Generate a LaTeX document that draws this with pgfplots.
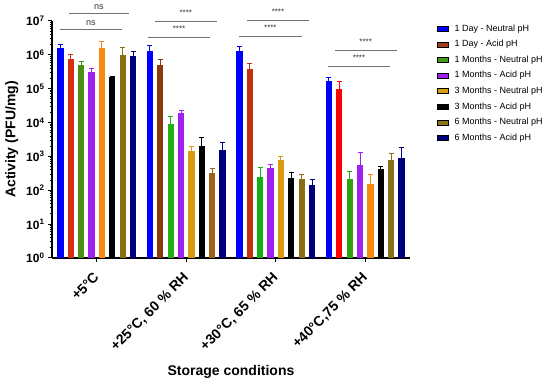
\documentclass[border=0pt]{standalone}
\usepackage{pgfplots}
\pgfplotsset{compat=1.18}
\usepackage{fontspec}
\setmainfont{Liberation Sans}
\definecolor{cA}{HTML}{0000FF}
\definecolor{cB}{HTML}{A0401A}
\definecolor{cBa}{HTML}{D82E10}
\definecolor{cBb}{HTML}{8B3A0A}
\definecolor{cBc}{HTML}{C0300F}
\definecolor{cBd}{HTML}{FF0000}
\definecolor{cC}{HTML}{3F9A1A}
\definecolor{cCa}{HTML}{4A9012}
\definecolor{cCb}{HTML}{22B014}
\definecolor{cCc}{HTML}{12B012}
\definecolor{cCd}{HTML}{30A012}
\definecolor{cD}{HTML}{A020F0}
\definecolor{cE}{HTML}{D4A017}
\definecolor{cEa}{HTML}{F58A0F}
\definecolor{cEb}{HTML}{D99A10}
\definecolor{cF}{HTML}{000000}
\definecolor{cG}{HTML}{8B7514}
\definecolor{cGa}{HTML}{8B6E14}
\definecolor{cGb}{HTML}{A0601A}
\definecolor{cGd}{HTML}{857214}
\definecolor{cH}{HTML}{00007F}
\definecolor{sig}{HTML}{707070}
% one bar: colour, x, y, upper error
\newcommand{\bp}[4]{\addplot[ybar, bar width=0.07, bar shift=0, fill=#1, draw=none, forget plot,
  error bars/.cd, y dir=plus, y explicit,
  error bar style={#1, line width=1pt},
  error mark options={#1, rotate=90, mark size=2.5pt, line width=1pt}]
  coordinates {(#2,#3) +- (0,#4)};}
\begin{document}
\begin{tikzpicture}
\path[use as bounding box] (0,0) rectangle (550pt,382pt);
\begin{axis}[
  at={(52pt,124pt)}, anchor=south west, scale only axis,
  width=358pt, height=237pt,
  ymode=log, ymin=1, ymax=1e7, xmin=-0.5, xmax=3.5,
  clip=false,
  axis x line=bottom, axis y line=left,
  axis line style={-, line width=1.6pt},
  tick align=outside,
  major tick length=4pt, minor tick length=2pt,
  every tick/.style={black, line width=1pt},
  xtick={0,1,2,3},
  xticklabels={{+5°C},{+25°C, 60 \% RH},{+30°C, 65 \% RH},{+40°C,75 \% RH}},
  xticklabel style={rotate=45, anchor=north east, font=\bfseries\fontsize{14}{14}\selectfont, inner sep=1pt, xshift=-8.5pt, yshift=-2.8pt},
  ytick={1,10,100,1000,10000,100000,1000000,10000000},
  yticklabels={10\textsuperscript{0},10\textsuperscript{1},10\textsuperscript{2},10\textsuperscript{3},10\textsuperscript{4},10\textsuperscript{5},10\textsuperscript{6},10\textsuperscript{7}},
  yticklabel style={font=\bfseries\fontsize{12}{12}\selectfont},
  xlabel={Storage conditions},
  ylabel={Activity (PFU/mg)},
  every axis x label/.style={at={(axis description cs:0.5,-0.48)}, anchor=center, font=\bfseries\fontsize{14}{14}\selectfont},
  every axis y label/.style={at={(axis description cs:-0.112,0.5)}, rotate=90, anchor=center, font=\bfseries\fontsize{14}{14}\selectfont},
  legend image code/.code={\fill[#1] (0pt,-2.5pt) rectangle (11pt,2.5pt);},
  legend cell align=left,
  legend style={draw=none, fill=none, at={(1,1)}, anchor=north west, xshift=27pt, yshift=-2pt,
    inner sep=0pt, row sep=4.6pt, font=\fontsize{9}{10}\selectfont,
    nodes={inner sep=1pt, text height=7pt, text depth=2pt},
    /tikz/every odd column/.append style={column sep=5pt}},
]
% 1 Day - Neutral pH
\bp{cA}{-0.4056}{1.55e6}{5e5}
\bp{cA}{0.5944}{1.26e6}{6.4e5}
\bp{cA}{1.5944}{1.32e6}{5e5}
\bp{cA}{2.5944}{1.74e5}{4e4}
% 1 Day - Acid pH
\bp{cBa}{-0.2898}{7.4e5}{2.6e5}
\bp{cBb}{0.7102}{5.1e5}{2.3e5}
\bp{cBc}{1.7102}{3.8e5}{1.7e5}
\bp{cBd}{2.7102}{9.8e4}{6.4e4}
% 1 Months - Neutral pH
\bp{cCa}{-0.1739}{5.0e5}{1.2e5}
\bp{cCb}{0.8261}{9.1e3}{6.4e3}
\bp{cCc}{1.8261}{245}{212}
\bp{cCd}{2.8261}{209}{154}
% 1 Months - Acid pH
\bp{cD}{-0.058}{3.16e5}{8e4}
\bp{cD}{0.942}{1.86e4}{4.8e3}
\bp{cD}{1.942}{468}{107}
\bp{cD}{2.942}{550}{800}
% 3 Months - Neutral pH
\bp{cEa}{0.058}{1.55e6}{9e5}
\bp{cEb}{1.058}{1.45e3}{500}
\bp{cEb}{2.058}{759}{264}
\bp{cEa}{3.058}{158}{130}
% 3 Months - Acid pH
\bp{cF}{0.1739}{2.19e5}{1.5e4}
\bp{cF}{1.1739}{2.0e3}{1.55e3}
\bp{cF}{2.1739}{229}{102}
\bp{cF}{3.1739}{437}{76}
% 6 Months - Neutral pH
\bp{cGa}{0.2898}{9.8e5}{6.4e5}
\bp{cGb}{1.2898}{331}{106}
\bp{cGa}{2.2898}{219}{83}
\bp{cGd}{3.2898}{794}{465}
% 6 Months - Acid pH
\bp{cH}{0.4056}{9.3e5}{3.3e5}
\bp{cH}{1.4056}{1.51e3}{1.0e3}
\bp{cH}{2.4056}{141}{68}
\bp{cH}{3.4056}{912}{950}
\addlegendimage{fill=cA}\addlegendentry{1 Day - Neutral pH}
\addlegendimage{fill=cB}\addlegendentry{1 Day - Acid pH}
\addlegendimage{fill=cC}\addlegendentry{1 Months - Neutral pH}
\addlegendimage{fill=cD}\addlegendentry{1 Months - Acid pH}
\addlegendimage{fill=cE}\addlegendentry{3 Months - Neutral pH}
\addlegendimage{fill=cF}\addlegendentry{3 Months - Acid pH}
\addlegendimage{fill=cG}\addlegendentry{6 Months - Neutral pH}
\addlegendimage{fill=cH}\addlegendentry{6 Months - Acid pH}
% significance annotations
\draw[sig, line width=0.8pt] (axis cs:-0.31,1.72e7) -- (axis cs:0.36,1.72e7) node[midway, above=3pt, inner sep=0pt, black!80, font=\fontsize{9}{9}\selectfont] {ns};
\draw[sig, line width=0.8pt] (axis cs:-0.41,5.8e6) -- (axis cs:0.28,5.8e6) node[midway, above=3pt, inner sep=0pt, black!80, font=\fontsize{9}{9}\selectfont] {ns};
\draw[sig, line width=0.8pt] (axis cs:0.65,1.0e7) -- (axis cs:1.34,1.0e7) node[midway, above=5pt, inner sep=0pt, black!80, font=\fontsize{8}{8}\selectfont] {****};
\draw[sig, line width=0.8pt] (axis cs:0.57,3.37e6) -- (axis cs:1.27,3.37e6) node[midway, above=5pt, inner sep=0pt, black!80, font=\fontsize{8}{8}\selectfont] {****};
\draw[sig, line width=0.8pt] (axis cs:1.68,1.07e7) -- (axis cs:2.37,1.07e7) node[midway, above=5pt, inner sep=0pt, black!80, font=\fontsize{8}{8}\selectfont] {****};
\draw[sig, line width=0.8pt] (axis cs:1.59,3.6e6) -- (axis cs:2.29,3.6e6) node[midway, above=5pt, inner sep=0pt, black!80, font=\fontsize{8}{8}\selectfont] {****};
\draw[sig, line width=0.8pt] (axis cs:2.66,1.39e6) -- (axis cs:3.35,1.39e6) node[midway, above=5pt, inner sep=0pt, black!80, font=\fontsize{8}{8}\selectfont] {****};
\draw[sig, line width=0.8pt] (axis cs:2.58,4.68e5) -- (axis cs:3.28,4.68e5) node[midway, above=5pt, inner sep=0pt, black!80, font=\fontsize{8}{8}\selectfont] {****};
\end{axis}
\end{tikzpicture}
\end{document}
